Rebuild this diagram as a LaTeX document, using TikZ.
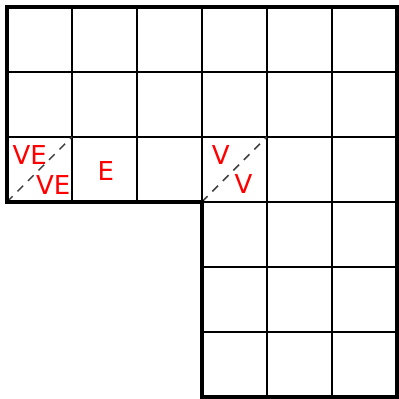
\documentclass[tikz,border=0pt]{standalone}
\usepackage{fontspec}
\setsansfont{DejaVu Sans}
\usepackage{tikz}
\usetikzlibrary{calc}

\begin{document}
\begin{tikzpicture}[x=1cm,y=1cm,
    every node/.style={font=\sffamily\fontsize{11.4}{13}\selectfont,text=red,inner sep=0pt},
    gridline/.style={line width=0.8pt},
    border/.style={line width=1.7pt,line join=miter},
    split/.style={line width=0.65pt,black!75,dash pattern=on 3.5pt off 3pt}]
    \useasboundingbox (-0.108,-0.035) rectangle (6.035,6.108);
    % inner grid lines
    \foreach \y in {4,5} \draw[gridline] (0,\y)--(6,\y);
    \foreach \y in {1,2,3} \draw[gridline] (3,\y)--(6,\y);
    \foreach \x in {1,2,3} \draw[gridline] (\x,3)--(\x,6);
    \foreach \x in {4,5} \draw[gridline] (\x,0)--(\x,6);
    % split cells
    \draw[split] (0,3)--(1,4);
    \draw[split] (3,3)--(4,4);
    % outline
    \draw[border] (0,6)--(6,6)--(6,0)--(3,0)--(3,3)--(0,3)--cycle;
    % labels
    \node (ve1) at (0.35,3.72) {VE};
    \node (ve2) at (0.71,3.26) {VE};
    \node (e) at (1.52,3.47) {E};
    \node (v1) at (3.29,3.72) {V};
    \node (v2) at (3.64,3.27) {V};
\end{tikzpicture}
\end{document}
